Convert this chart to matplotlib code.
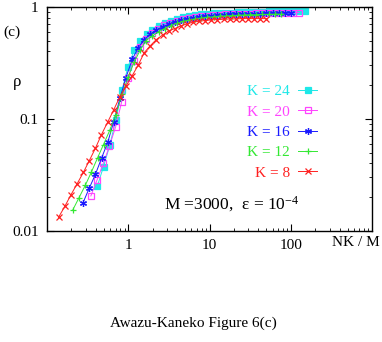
import numpy as np
import matplotlib
matplotlib.use("Agg")
import matplotlib.pyplot as plt

plt.rcParams['font.family'] = ['Liberation Serif', 'DejaVu Serif']
plt.rcParams['mathtext.fontset'] = 'custom'
plt.rcParams['mathtext.rm'] = 'Liberation Serif'
plt.rcParams['mathtext.it'] = 'Liberation Serif:italic'

M = 3000
# system sizes N (same set for every K), x axis is N*K/M
N = [52, 62, 74, 88, 105, 124, 148, 175, 210, 248, 295, 350, 415, 495, 590,
     700, 830, 990, 1180, 1400, 1660, 1980, 2350, 2800, 3330, 3960, 4700,
     5600, 6650, 7900, 9400, 11200, 13300, 15800, 18800]

rho_k24 = [0.025, 0.0375, 0.058, 0.098, 0.182, 0.29, 0.41, 0.50, 0.57, 0.62,
           0.675, 0.715, 0.75, 0.78, 0.805, 0.825, 0.84, 0.855, 0.865, 0.875,
           0.88, 0.885, 0.89, 0.895, 0.90, 0.90, 0.905, 0.905, 0.91, 0.91,
           0.91, 0.915, 0.915, 0.915, 0.92]
rho_k20 = [0.0205, 0.0285, 0.040, 0.057, 0.085, 0.14, 0.23, 0.33, 0.44, 0.52,
           0.59, 0.64, 0.685, 0.72, 0.75, 0.775, 0.795, 0.81, 0.825, 0.835,
           0.845, 0.85, 0.855, 0.86, 0.865, 0.87, 0.87, 0.875, 0.875, 0.88,
           0.88, 0.885, 0.885, 0.885, 0.89]
rho_k16 = [0.0178, 0.024, 0.032, 0.0446, 0.062, 0.094, 0.152, 0.232, 0.34, 0.43,
           0.51, 0.57, 0.62, 0.665, 0.70, 0.73, 0.76, 0.78, 0.80, 0.815,
           0.825, 0.835, 0.845, 0.85, 0.855, 0.86, 0.865, 0.865, 0.87, 0.87,
           0.875, 0.875, 0.875, 0.88, 0.88]
rho_k12 = [0.0154, 0.0198, 0.0255, 0.0335, 0.045, 0.059, 0.079, 0.108, 0.165, 0.235,
           0.32, 0.41, 0.50, 0.55, 0.60, 0.64, 0.68, 0.71, 0.74, 0.765,
           0.78, 0.795, 0.805, 0.815, 0.825, 0.83, 0.835, 0.84, 0.845, 0.85,
           0.85, 0.855, 0.855, 0.86, 0.86]
rho_k8 = [0.0132, 0.0165, 0.021, 0.0263, 0.0332, 0.0422, 0.0547, 0.072, 0.094, 0.12,
          0.157, 0.195, 0.24, 0.30, 0.39, 0.45, 0.51, 0.56, 0.61, 0.64,
          0.675, 0.705, 0.73, 0.745, 0.755, 0.765, 0.77, 0.775, 0.78, 0.78,
          0.785, 0.785, 0.785, 0.785, 0.785]

Ks = [24, 20, 16, 12, 8]
rhos = [rho_k24, rho_k20, rho_k16, rho_k12, rho_k8]
colors = ['#1ee8e8', '#ff44ff', '#1a1aff', '#33e833', '#ff2020']
markers = ['s', 's', (6, 2, 0), '+', 'x']
faces = ['#1ee8e8', 'none', '#1a1aff', '#33e833', '#ff2020']

fig = plt.figure(figsize=(3.82, 3.42), dpi=100)
ax = fig.add_axes([0.123, 0.325, 0.851, 0.655])

for K, rho, c, m, fc in zip(Ks, rhos, colors, markers, faces):
    x = np.array(N) * K / M
    ax.plot(x, rho, color=c, lw=0.7, marker=m, ms=5, mfc=fc, mec=c, mew=0.9,
            label='K = %d' % K)

ax.set_xscale('log')
ax.set_yscale('log')
ax.set_xlim(0.1, 1000)
ax.set_ylim(0.01, 1)
ax.set_xticks([1, 10, 100])
ax.set_xticklabels(['1', '10', '100'])
ax.set_yticks([0.01, 0.1, 1])
ax.set_yticklabels(['0.01', '0.1', '1'])
ax.tick_params(which='both', direction='in', top=True, right=True, labelsize=11)
ax.tick_params(which='major', length=5, width=0.8, pad=6)
ax.tick_params(which='minor', length=2.5, width=0.6)
for s in ax.spines.values():
    s.set_linewidth(1.0)

# gnuplot style key: label first, then sample
ax.legend(loc='upper right', bbox_to_anchor=(0.831, 0.652), frameon=False,
          markerfirst=False, handlelength=1.25, handletextpad=0.55,
          labelspacing=0.43, borderpad=0, borderaxespad=0, fontsize=11,
          labelcolor='linecolor')

ax.text(0.36, 0.118, r'M =3000,  ε = 10$^{-4}$', transform=ax.transAxes,
        fontsize=12.5, va='center', ha='left')

fig.text(0.008, 0.906, '(c)', fontsize=11, va='center', ha='left')
fig.text(0.045, 0.76, 'ρ', fontsize=12, va='center', ha='center')
fig.text(0.995, 0.29, 'NK / M', fontsize=11, va='center', ha='right')
fig.text(0.505, 0.056, 'Awazu-Kaneko Figure 6(c)', fontsize=11, va='center', ha='center')

fig.savefig('out.png', dpi=100)
